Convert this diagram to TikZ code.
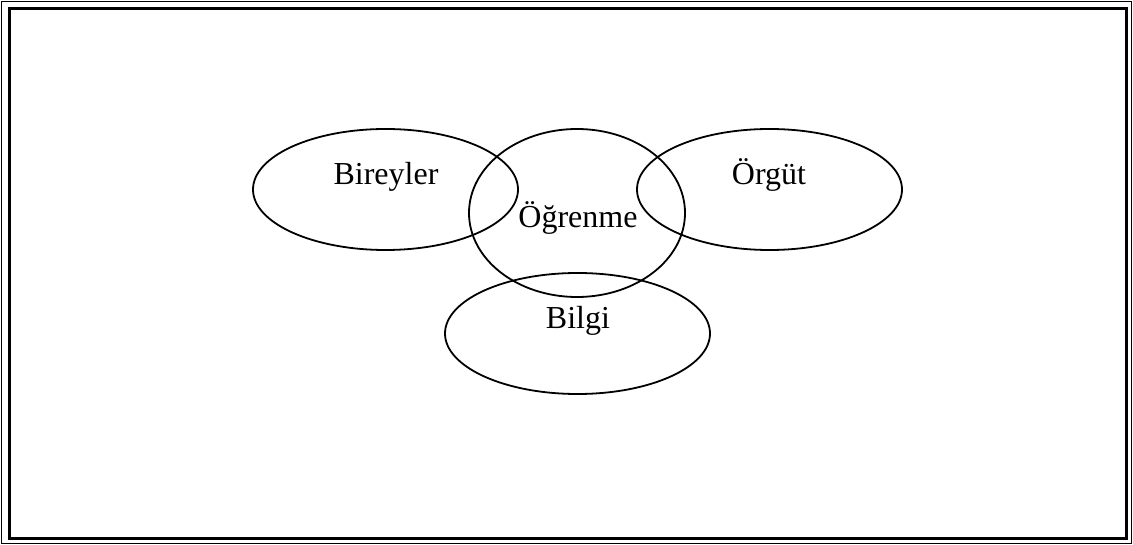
\documentclass[tikz,border=0pt]{standalone}
\usepackage{fontspec}
\setmainfont{Liberation Serif}
\begin{document}
\begin{tikzpicture}[x=1pt,y=-1pt,
  ring/.style={draw=black,line width=1.8pt},
  lbl/.style={anchor=base,inner sep=0pt,font=\fontsize{32}{38}\selectfont}]
\useasboundingbox (0,0) rectangle (1133,545);
% double frame
\draw[line width=1.5pt] (1.5,1.5) rectangle (1131.5,543.5);
\draw[line width=3pt] (9.5,8.5) rectangle (1126.5,538.5);
% overlapping ellipses
\draw[ring] (385.5,189.5) ellipse [x radius=132.5, y radius=60.5];
\draw[ring] (577,213) ellipse [x radius=108, y radius=84];
\draw[ring] (769.5,189.5) ellipse [x radius=132.5, y radius=60.5];
\draw[ring] (577.5,333.5) ellipse [x radius=132.5, y radius=60.5];
% labels
\node[lbl] (bireyler) at (386,185) {Bireyler};
\node[lbl] (ogrenme) at (578,228) {Öğrenme};
\node[lbl] (orgut) at (769,185) {Örgüt};
\node[lbl] (bilgi) at (578,329) {Bilgi};
\end{tikzpicture}
\end{document}
